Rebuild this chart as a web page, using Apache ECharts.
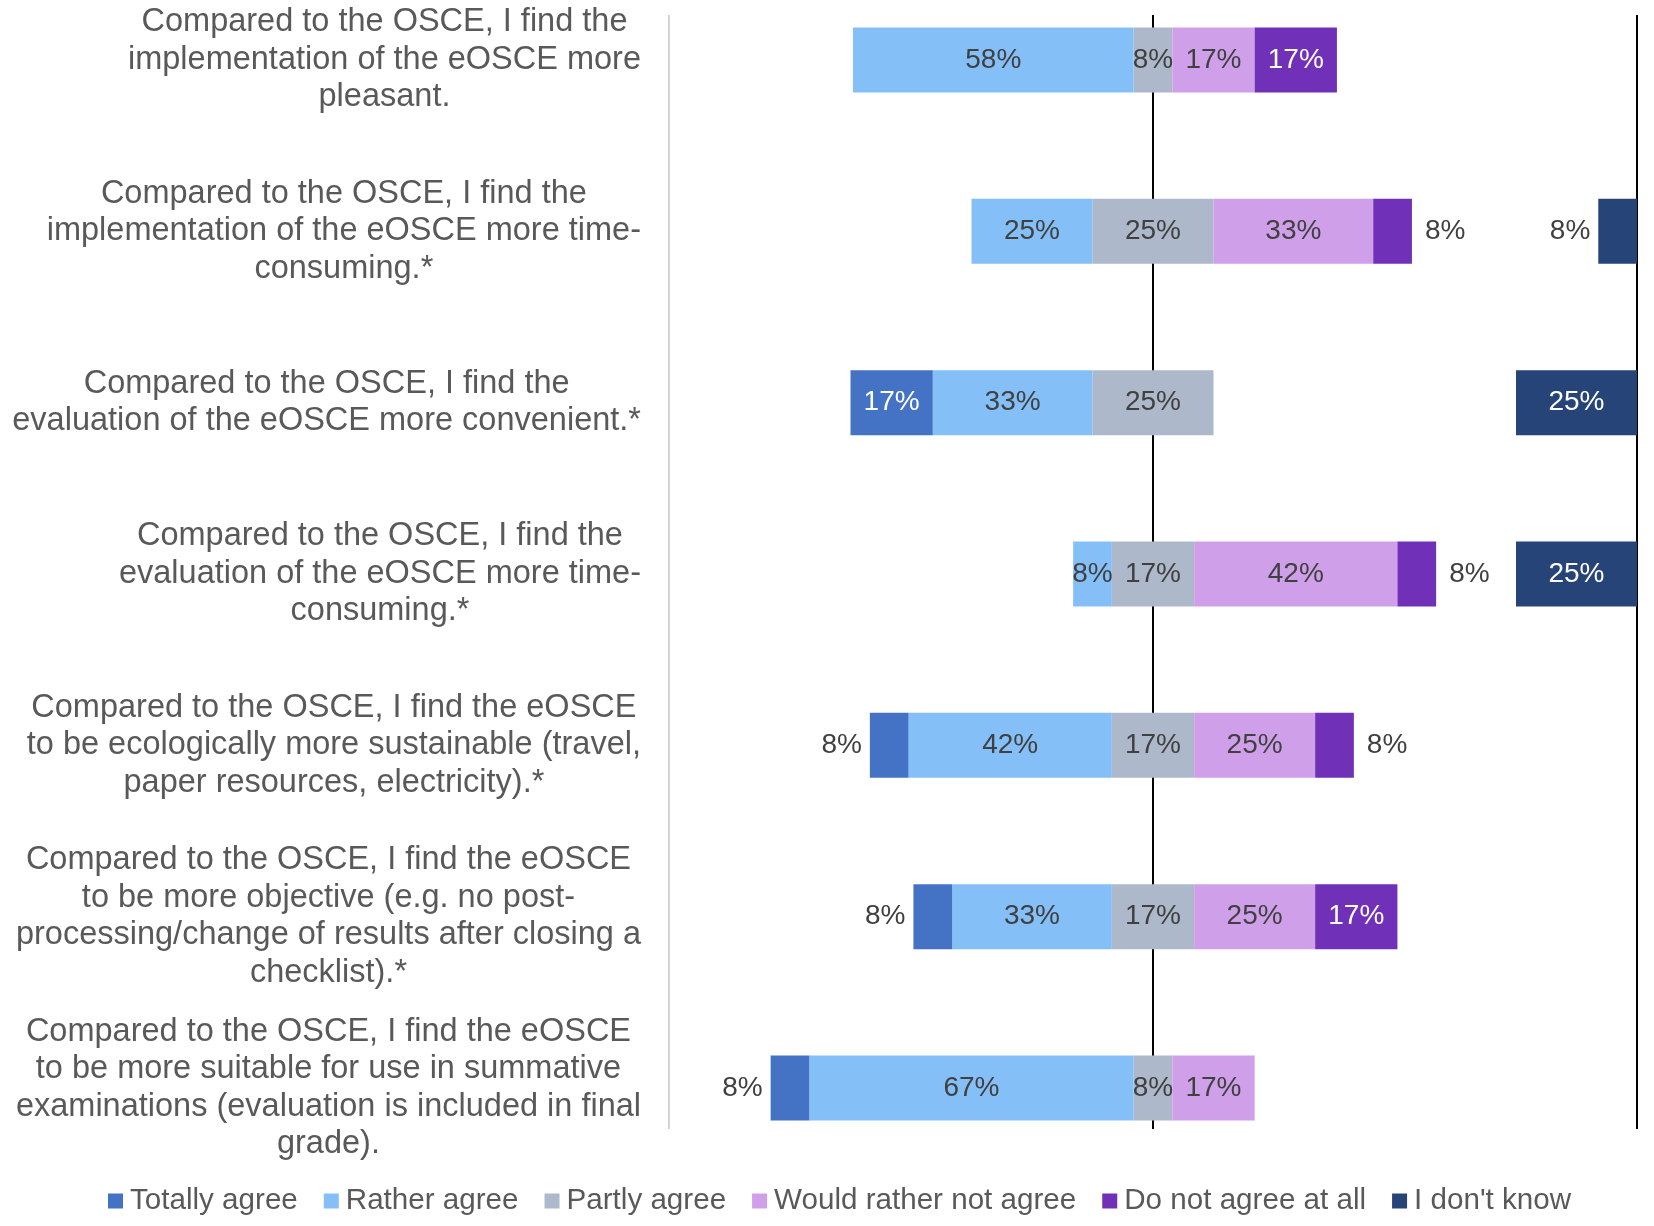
<!DOCTYPE html>
<html>
<head>
<meta charset="utf-8">
<title>eOSCE compared to OSCE</title>
<script src="https://cdn.jsdelivr.net/npm/echarts@6/dist/echarts.min.js"></script>
<style>
  html, body { margin: 0; padding: 0; background: #fff; }
  #chart { width: 1654px; height: 1226px; }
</style>
</head>
<body>
<div id="chart"></div>
<script>
const statements = [
  "Compared to the OSCE, I find the\nimplementation of the eOSCE more\npleasant.",
  "Compared to the OSCE, I find the\nimplementation of the eOSCE more time-\nconsuming.*",
  "Compared to the OSCE, I find the\nevaluation of the eOSCE more convenient.*",
  "Compared to the OSCE, I find the\nevaluation of the eOSCE more time-\nconsuming.*",
  "Compared to the OSCE, I find the eOSCE\nto be ecologically more sustainable (travel,\npaper resources, electricity).*",
  "Compared to the OSCE, I find the eOSCE\nto be more objective (e.g. no post-\nprocessing/change of results after closing a\nchecklist).*",
  "Compared to the OSCE, I find the eOSCE\nto be more suitable for use in summative\nexaminations (evaluation is included in final\ngrade)."
];

// percentages per statement, top to bottom
const totallyAgree   = [0, 0, 17, 0, 8, 8, 8];
const ratherAgree    = [58, 25, 33, 8, 42, 33, 67];
const partlyAgree    = [8, 25, 25, 17, 17, 17, 8];
const ratherNotAgree = [17, 33, 0, 42, 25, 25, 17];
const notAgreeAtAll  = [17, 8, 0, 8, 8, 17, 0];
const dontKnow       = [0, 8, 25, 25, 0, 0, 0];

const legendNames = ["Totally agree", "Rather agree", "Partly agree",
  "Would rather not agree", "Do not agree at all", "I don't know"];

const FONT = "'Liberation Sans', Arial, sans-serif";
const DARK = "#404040";

// small segments of some series get their label outside the bar
function toItems(values, sign, insideColor, outsidePos) {
  return values.map(function (v) {
    if (!v) return { value: 0, label: { show: false } };
    let outside = outsidePos && v < 10;
    return {
      value: sign * v,
      label: {
        position: outside ? outsidePos : "inside",
        distance: outsidePos === "right" ? 13 : 8,
        color: outside ? DARK : insideColor
      }
    };
  });
}

function barSeries(name, color, data, extra) {
  return Object.assign({
    name: name,
    type: "bar",
    stack: "likert",
    barWidth: 65,
    barGap: "-100%",
    itemStyle: { color: color },
    label: {
      show: true,
      fontSize: 28,
      fontFamily: FONT,
      color: DARK,
      formatter: function (p) { return Math.abs(p.value) + "%"; }
    },
    data: data
  }, extra || {});
}

var chart = echarts.init(document.getElementById("chart"));

chart.setOption({
  animation: false,
  backgroundColor: "#fff",
  grid: [
    // bar rows: first and last category sit on the grid edges
    { left: 669, right: 17, top: 60, height: 1028 },
    // only carries the three vertical lines
    { left: 669, right: 17, top: 15, bottom: 97 }
  ],
  xAxis: [
    { gridIndex: 0, type: "value", min: -100, max: 100, show: false },
    { gridIndex: 0, type: "value", min: 0, max: 200, inverse: true, show: false },
    {
      gridIndex: 1, type: "value", min: -100, max: 100, interval: 100,
      axisLabel: { show: false }, axisLine: { show: false }, axisTick: { show: false },
      splitLine: { show: true, lineStyle: { color: ["#d4d4d4", "#000", "#000"], width: 2 } }
    }
  ],
  yAxis: [
    {
      gridIndex: 0,
      type: "category",
      inverse: true,
      boundaryGap: false,
      data: statements,
      axisLine: { show: false },
      axisTick: { show: false },
      splitLine: { show: false },
      axisLabel: {
        margin: 28,
        align: "right",
        fontSize: 32.5,
        lineHeight: 37.5,
        fontFamily: FONT,
        color: "#595959",
        formatter: function (val) {
          return val.split("\n").map(function (l) { return "{c|" + l + "}"; }).join("\n");
        },
        rich: {
          c: { align: "center", fontSize: 32.5, lineHeight: 37.5, fontFamily: FONT, color: "#595959" }
        }
      }
    },
    { gridIndex: 1, type: "value", show: false }
  ],
  legend: {
    data: legendNames,
    left: 103,
    top: 1181,
    icon: "rect",
    itemWidth: 15,
    itemHeight: 15,
    itemGap: 26,
    textStyle: { fontSize: 29.6, fontFamily: FONT, color: "#595959", padding: [0, 0, 0, 2] }
  },
  series: [
    barSeries("Partly agree", "#adb9ca", partlyAgree.map(function (v) { return -v / 2; }), {
      label: { show: false }
    }),
    barSeries("Partly agree", "#adb9ca", partlyAgree.map(function (v) { return v / 2; }), {
      label: {
        show: true,
        position: [0, "50%"],
        align: "center",
        verticalAlign: "middle",
        fontSize: 28,
        fontFamily: FONT,
        color: DARK,
        formatter: function (p) { return (p.value * 2) + "%"; }
      }
    }),
    barSeries("Rather agree", "#85bff8", toItems(ratherAgree, -1, DARK, null)),
    barSeries("Totally agree", "#4472c4", toItems(totallyAgree, -1, "#fff", "left")),
    barSeries("Would rather not agree", "#cfa0e9", toItems(ratherNotAgree, 1, DARK, null)),
    barSeries("Do not agree at all", "#7030b8", toItems(notAgreeAtAll, 1, "#fff", "right")),
    barSeries("I don't know", "#264478", toItems(dontKnow, 1, "#fff", "left"), {
      stack: null,
      xAxisIndex: 1
    })
  ]
});
</script>
</body>
</html>
